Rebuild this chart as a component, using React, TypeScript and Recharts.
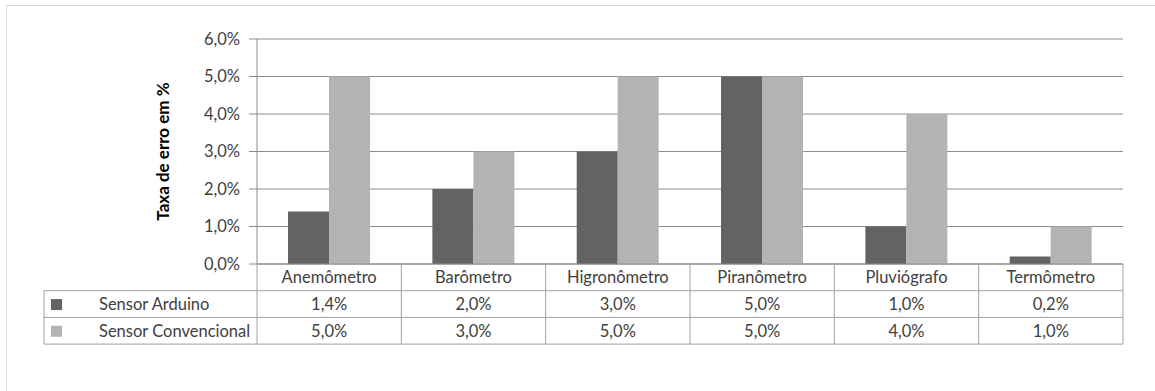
import { BarChart, Bar, XAxis, YAxis, CartesianGrid, Label } from 'recharts';

const categories = ['Anemômetro', 'Barômetro', 'Higronômetro', 'Piranômetro', 'Pluviógrafo', 'Termômetro'];
const arduino = [1.4, 2.0, 3.0, 5.0, 1.0, 0.2];
const convencional = [5.0, 3.0, 5.0, 5.0, 4.0, 1.0];
const seriesNames = ['Sensor Arduino', 'Sensor Convencional'];
const yTicks = [0, 1, 2, 3, 4, 5, 6];

const COLORS = ['#636363', '#b3b3b3'];
const LINE = '#a0a0a0';
const FONT = 'Lato, "Liberation Sans", sans-serif';
const FS = 16.5;

const W = 1155;
const H = 391;
const M = { top: 39, right: 32, left: 197, bottom: 47 };
const Y_W = 60;
const PLOT_L = M.left + Y_W;
const COL_W = (W - M.right - PLOT_L) / categories.length;
const ROW_H = 26.7;
const LEGEND_L = 44;

const data = categories.map((name, i) => ({
  name,
  arduino: arduino[i],
  convencional: convencional[i],
}));

const fmt = (v: number) => `${v.toFixed(1).replace('.', ',')}%`;

// draws one column of the data table under the plot (and the legend column for the first one)
const TableTick = ({ x, y, payload, index }: any) => {
  const left = x - COL_W / 2;
  const rows = [arduino, convencional];
  return (
    <g fontFamily={FONT} fontSize={FS} fill="#404040">
      <line x1={left + COL_W} y1={y} x2={left + COL_W} y2={y + ROW_H * 3} stroke={LINE} />
      <text x={x} y={y + ROW_H / 2 + 6} textAnchor="middle">{payload.value}</text>
      {rows.map((r, k) => (
        <g key={k}>
          <line x1={left} y1={y + ROW_H * (k + 1)} x2={left + COL_W} y2={y + ROW_H * (k + 1)} stroke={LINE} />
          <text x={x} y={y + ROW_H * (k + 1.5) + 6} textAnchor="middle">{fmt(r[index])}</text>
        </g>
      ))}
      <line x1={left} y1={y + ROW_H * 3} x2={left + COL_W} y2={y + ROW_H * 3} stroke={LINE} />
      {index === 0 && (
        <g>
          <line x1={LEGEND_L} y1={y + ROW_H} x2={left} y2={y + ROW_H} stroke={LINE} />
          <line x1={LEGEND_L} y1={y + ROW_H * 2} x2={left} y2={y + ROW_H * 2} stroke={LINE} />
          <line x1={LEGEND_L} y1={y + ROW_H * 3} x2={left} y2={y + ROW_H * 3} stroke={LINE} />
          <line x1={LEGEND_L} y1={y + ROW_H} x2={LEGEND_L} y2={y + ROW_H * 3} stroke={LINE} />
          <line x1={left} y1={y} x2={left} y2={y + ROW_H * 3} stroke={LINE} />
          {seriesNames.map((s, k) => (
            <g key={s}>
              <rect x={51} y={y + ROW_H * (k + 1.5) - 5} width={11} height={11} fill={COLORS[k]} />
              <text x={99} y={y + ROW_H * (k + 1.5) + 6}>{s}</text>
            </g>
          ))}
        </g>
      )}
    </g>
  );
};

export default function App() {
  return (
    <div style={{ position: 'absolute', left: 0, top: 0, width: W, height: H, background: '#fff' }}>
      <div
        style={{
          position: 'absolute',
          left: 6,
          top: 5,
          width: W,
          height: H,
          borderLeft: '1px solid #d9d9d9',
          borderTop: '1px solid #d9d9d9',
        }}
      />
      <div style={{ position: 'absolute', left: 0, top: 0 }}>
        <BarChart
          width={W}
          height={H}
          data={data}
          margin={M}
          barCategoryGap="21.5%"
          barGap={0}
        >
          <CartesianGrid horizontal vertical={false} stroke="#8c8c8c" />
          <XAxis
            dataKey="name"
            axisLine={{ stroke: '#8c8c8c' }}
            tickLine={false}
            tickSize={0}
            tickMargin={0}
            height={H - M.top - M.bottom - 225}
            interval={0}
            tick={<TableTick />}
          />
          <YAxis
            width={Y_W}
            domain={[0, 6]}
            ticks={yTicks}
            tickFormatter={fmt}
            axisLine={{ stroke: '#8c8c8c' }}
            tickLine={{ stroke: '#8c8c8c' }}
            tickSize={8}
            tickMargin={9}
            tick={{ fill: '#404040', fontSize: FS, fontFamily: FONT }}
          >
            <Label
              value="Taxa de erro em %"
              angle={-90}
              position="insideLeft"
              offset={-34}
              style={{ fontFamily: FONT, fontSize: 17, fontWeight: 'bold', fill: '#000', textAnchor: 'middle' }}
            />
          </YAxis>
          <Bar dataKey="arduino" name={seriesNames[0]} fill={COLORS[0]} isAnimationActive={false} />
          <Bar dataKey="convencional" name={seriesNames[1]} fill={COLORS[1]} isAnimationActive={false} />
        </BarChart>
      </div>
    </div>
  );
}
